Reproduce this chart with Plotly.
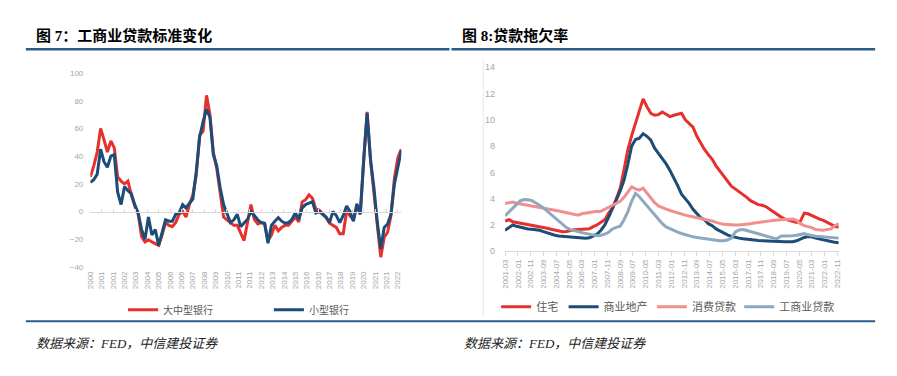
import plotly.graph_objects as go
import pandas as pd

W, H = 897, 376

# ---------------- Data: left chart (figure 7) ----------------
left_dates = pd.date_range('2000-03-01', periods=92, freq='3MS')
large_banks = [25, 33, 43, 60, 52, 43, 51, 46, 25, 22, 20, 22, 12, 4, -2, -18,
               -22, -20.5, -22, -23, -24.5, -17, -8, -10, -11, -8, -2, 0, -4, 5,
               12, 26, 55, 58, 84, 70, 43, 31, 12, -4, -6, -8, -10, -10, -16, -21,
               -8, 5, -5.6, -9, -8, -9, -21, -17, -10, -14, -11.5, -10, -10, -7,
               -4, -7.5, 7, 8.5, 12, 9.6, 1.6, 1, -2, -4.5, -8.5, -10, -11.5, -16,
               -16, 0, -3, -6, 4, -2, 37, 72, 37, 15.5, -10, -33, -18.6, -15, -3,
               24, 39, 45]
small_banks = [21, 23, 27, 45, 36, 32, 40, 41, 14, 5, 18, 15, 13, 5, -1, -13,
               -20, -4, -17, -13, -24.5, -15, -6, -7, -7, -2, -1, 5, 2.6, 6,
               9, 29, 54, 65, 74, 68, 41, 33, 17, 5, -2, -8, -6, -2, -11, -8,
               -5.6, 0, -3, -6, -8, -8.5, -23, -10, -7, -4.5, -7, -8.5, -8, -5.6,
               -1, -5.6, 2.6, 5, 6, 7, -1, 0, -2, -4, -8, 0, -3, -8,
               -3, 4, 0, -7, 5.6, -2, 37, 71, 37, 17, -8, -27, -11.5, -9, -2,
               20, 32, 44]
left_tickvals = ['2000-03-01', '2001-01-01', '2001-11-01', '2002-09-01', '2003-07-01',
                 '2004-05-01', '2005-03-01', '2006-01-01', '2006-11-01', '2007-09-01',
                 '2008-07-01', '2009-05-01', '2010-03-01', '2011-01-01', '2011-11-01',
                 '2012-09-01', '2013-07-01', '2014-05-01', '2015-03-01', '2016-01-01',
                 '2016-11-01', '2017-09-01', '2018-07-01', '2019-05-01', '2020-03-01',
                 '2021-01-01', '2021-11-01', '2022-09-01']
left_ticktext = ['2000', '2001', '2001', '2002', '2003', '2004', '2005', '2006', '2006',
                 '2007', '2008', '2009', '2010', '2011', '2011', '2012', '2013', '2014',
                 '2015', '2016', '2016', '2017', '2018', '2019', '2020', '2021', '2021',
                 '2022']
left_yticks = [-40, -20, 0, 20, 40, 60, 80, 100]

# ---------------- Data: right chart (figure 8) ----------------
right_dates = pd.date_range('2001-03-01', periods=88, freq='3MS')
residential = [2.3, 2.4, 2.25, 2.2, 2.15, 2.1, 2.05, 2.0, 1.95, 1.88, 1.8, 1.75, 1.68,
               1.62, 1.55, 1.48, 1.5, 1.58, 1.63, 1.65, 1.66, 1.66, 1.72, 1.88, 2.0,
               2.2, 2.4, 2.9, 3.3, 4.0, 4.8, 6.2, 7.7, 8.8, 9.7, 10.7, 11.6, 11.0,
               10.5, 10.35, 10.4, 10.6, 10.4, 10.25, 10.35, 10.45, 10.5, 10.0, 9.7,
               9.45, 8.75, 8.2, 7.75, 7.35, 7.0, 6.5, 6.1, 5.7, 5.35, 4.95, 4.75,
               4.55, 4.35, 4.1, 3.85, 3.7, 3.55, 3.5, 3.4, 3.2, 3.0, 2.75, 2.6, 2.45,
               2.35, 2.25, 2.2, 2.3, 2.9, 2.85, 2.7, 2.55, 2.45, 2.35, 2.2, 2.0, 1.9,
               1.82]
commercial_re = [1.6, 1.8, 2.0, 1.9, 1.82, 1.75, 1.7, 1.68, 1.66, 1.6, 1.5, 1.4, 1.3,
                 1.22, 1.16, 1.13, 1.1, 1.08, 1.05, 1.02, 1.0, 1.0, 1.02, 1.15, 1.3,
                 1.6, 2.0, 2.6, 3.2, 3.9, 4.6, 5.4, 6.6, 8.0, 8.5, 8.6, 8.95, 8.75,
                 8.45, 7.85, 7.45, 7.05, 6.65, 6.15, 5.6, 5.0, 4.35, 4.0, 3.65, 3.2,
                 2.85, 2.55, 2.4, 2.1, 1.95, 1.7, 1.55, 1.38, 1.25, 1.14, 1.05, 1.0,
                 0.95, 0.9, 0.88, 0.85, 0.82, 0.8, 0.78, 0.76, 0.73, 0.72, 0.72, 0.72,
                 0.72, 0.72, 0.8, 0.95, 1.05, 1.12, 1.1, 1.0, 0.95, 0.88, 0.82, 0.75,
                 0.68, 0.65]
consumer = [3.64, 3.7, 3.74, 3.65, 3.6, 3.55, 3.5, 3.45, 3.42, 3.38, 3.3, 3.25, 3.18,
            3.12, 3.06, 3.0, 2.95, 2.88, 2.8, 2.75, 2.85, 2.92, 2.95, 3.0, 3.02, 3.05,
            3.2, 3.35, 3.55, 3.7, 3.8, 4.1, 4.5, 4.9, 4.75, 4.65, 4.8, 4.4, 4.0, 3.7,
            3.45, 3.3, 3.2, 3.1, 3.0, 2.9, 2.82, 2.75, 2.68, 2.62, 2.55, 2.5, 2.45,
            2.35, 2.3, 2.2, 2.1, 2.05, 2.03, 2.0, 2.0, 2.0, 2.02, 2.06, 2.1, 2.15,
            2.2, 2.25, 2.3, 2.32, 2.35, 2.38, 2.4, 2.42, 2.44, 2.45, 2.35, 2.1, 1.95,
            1.9, 1.8, 1.65, 1.6, 1.6, 1.65, 1.7, 1.95, 2.1]
c_and_i = [2.7, 3.0, 3.3, 3.6, 3.85, 3.93, 3.92, 3.85, 3.7, 3.5, 3.3, 3.05, 2.8, 2.55,
           2.3, 2.0, 1.8, 1.65, 1.55, 1.5, 1.42, 1.35, 1.28, 1.2, 1.18, 1.22, 1.3,
           1.45, 1.7, 1.82, 1.9, 2.4, 3.0, 3.8, 4.4, 4.15, 3.8, 3.5, 3.1, 2.8, 2.4,
           2.1, 1.85, 1.7, 1.55, 1.45, 1.35, 1.25, 1.18, 1.1, 1.05, 1.0, 0.95, 0.9,
           0.85, 0.82, 0.8, 0.8, 0.85, 1.0, 1.45, 1.62, 1.65, 1.58, 1.5, 1.4, 1.32,
           1.26, 1.18, 1.1, 1.0, 0.98, 1.16, 1.16, 1.15, 1.18, 1.22, 1.3, 1.34, 1.25,
           1.18, 1.15, 1.12, 1.1, 1.07, 1.05, 1.02, 1.0]
right_ticktext = ['2001-03', '2002-01', '2002-11', '2003-09', '2004-07', '2005-05',
                  '2006-03', '2007-01', '2007-11', '2008-09', '2009-07', '2010-05',
                  '2011-03', '2012-01', '2012-11', '2013-09', '2014-07', '2015-05',
                  '2016-03', '2017-01', '2017-11', '2018-09', '2019-07', '2020-05',
                  '2021-03', '2022-01', '2022-11']
right_yticks = [0, 2, 4, 6, 8, 10, 12, 14]

# ---------------- Styling ----------------
RED = '#E5302C'
NAVY = '#1C4C78'
PINK = '#F0908E'
GREYBLUE = '#8EA8BD'
RULE = '#2B5B87'
TICKFONT = dict(family='Liberation Sans, Arial, sans-serif', size=8, color='#A6A6A6')
CJK = 'Noto Sans CJK SC'


def px(x):
    return x / W


def py(y):
    return (H - y) / H


# plot areas in pixels
LX0, LX1, LY_TOP, LY_BOT = 87, 400.4, 70, 269
RX0, RX1, RY_TOP, RY_BOT = 505, 841.3, 64, 253

fig = go.Figure()

fig.add_trace(go.Scatter(x=left_dates, y=large_banks, name='大中型银行', mode='lines',
                         line=dict(color=RED, width=3), xaxis='x', yaxis='y',
                         legend='legend'))
fig.add_trace(go.Scatter(x=left_dates, y=small_banks, name='小型银行', mode='lines',
                         line=dict(color=NAVY, width=3), xaxis='x', yaxis='y',
                         legend='legend2'))
# helper trace so the zero-line tick axis renders
fig.add_trace(go.Scatter(x=[left_dates[0]], y=[0], mode='markers', marker=dict(opacity=0),
                         showlegend=False, hoverinfo='skip', xaxis='x3', yaxis='y'))

for name, vals, color, leg in [('住宅', residential, RED, 'legend3'),
                               ('商业地产', commercial_re, NAVY, 'legend4'),
                               ('消费贷款', consumer, PINK, 'legend5'),
                               ('工商业贷款', c_and_i, GREYBLUE, 'legend6')]:
    fig.add_trace(go.Scatter(x=right_dates, y=vals, name=name, mode='lines',
                             line=dict(color=color, width=3), xaxis='x2', yaxis='y2',
                             legend=leg))

zero_pos = py(LY_BOT) + (0 - (-40)) / 140 * (py(LY_TOP) - py(LY_BOT))

layout = dict(
    width=W, height=H, autosize=False,
    margin=dict(l=0, r=0, t=0, b=0),
    paper_bgcolor='white', plot_bgcolor='white',
    showlegend=True,
    xaxis=dict(domain=[px(LX0), px(LX1)], anchor='y', type='date',
               range=['2000-03-01', '2022-12-01'],
               tickmode='array', tickvals=left_tickvals, ticktext=left_ticktext,
               tickangle=-90, tickfont=TICKFONT, showgrid=False, showline=False,
               zeroline=False, ticks='', ticklabelstandoff=2),
    xaxis3=dict(overlaying='x', anchor='free', position=zero_pos, type='date',
                range=['2000-03-01', '2022-12-01'],
                tickmode='array', tickvals=left_tickvals, showticklabels=False,
                ticks='inside', ticklen=3, tickcolor='#D9D9D9', showline=True,
                linecolor='#D9D9D9', linewidth=1, showgrid=False, zeroline=False),
    yaxis=dict(domain=[py(LY_BOT), py(LY_TOP)], anchor='x', range=[-40, 100],
               tickmode='array', tickvals=left_yticks, tickfont=TICKFONT,
               showgrid=False, zeroline=False, showline=False, ticks='',
               ticklabelstandoff=6),
    xaxis2=dict(domain=[px(RX0), px(RX1)], anchor='y2', type='date',
                range=['2001-03-01', '2022-12-01'],
                tickmode='array', tickvals=[t + '-01' for t in right_ticktext],
                ticktext=right_ticktext, tickangle=-90, tickfont=TICKFONT,
                showgrid=False, showline=True, linecolor='#D9D9D9', linewidth=1,
                ticks='outside', ticklen=4, tickcolor='#D9D9D9', zeroline=False),
    yaxis2=dict(domain=[py(RY_BOT), py(RY_TOP)], anchor='x2', range=[0, 14],
                tickmode='array', tickvals=right_yticks,
                tickfont=dict(TICKFONT, size=9), showgrid=False, zeroline=False,
                showline=False, ticks='', ticklabelstandoff=9),
)

leg_common = dict(orientation='h', xanchor='left', yanchor='middle',
                  bgcolor='rgba(0,0,0,0)', borderwidth=0, itemclick=False,
                  itemdoubleclick=False)
legend_pos = {'legend': (120, 313, 10), 'legend2': (267, 313, 10),
              'legend3': (496, 310, 11), 'legend4': (564, 310, 11),
              'legend5': (653, 310, 11), 'legend6': (741, 310, 11)}
for key, (lx, ly, fs) in legend_pos.items():
    layout[key] = dict(leg_common, x=px(lx), y=py(ly),
                       font=dict(family=CJK, size=fs, color='#595959'))

fig.update_layout(**layout)

TITLE_FONT = dict(family='Liberation Serif, ' + CJK, size=15, color='#000000')
SRC_FONT = dict(family='Liberation Serif, ' + CJK, size=13, color='#222222', style='italic')

fig.add_annotation(x=px(30), y=py(31), xref='paper', yref='paper', xanchor='left',
                   yanchor='middle', showarrow=False, text='<b>图 7：工商业贷款标准变化</b>',
                   font=TITLE_FONT)
fig.add_annotation(x=px(460), y=py(31), xref='paper', yref='paper', xanchor='left',
                   yanchor='middle', showarrow=False, text='<b>图 8:贷款拖欠率</b>',
                   font=TITLE_FONT)
for sx in (30, 462):
    fig.add_annotation(x=px(sx), y=py(348), xref='paper', yref='paper', xanchor='left',
                       yanchor='middle', showarrow=False,
                       text='数据来源：FED，中信建投证券', font=SRC_FONT)

# rules
for x0, x1 in [(22, 449), (451, 878)]:
    fig.add_shape(type='line', xref='paper', yref='paper', x0=px(x0), x1=px(x1),
                  y0=py(45.5), y1=py(45.5), line=dict(color=RULE, width=2.5))
fig.add_shape(type='line', xref='paper', yref='paper', x0=px(22), x1=px(878),
              y0=py(325), y1=py(325), line=dict(color=RULE, width=2))
# frame edge of right chart image
fig.add_shape(type='line', xref='paper', yref='paper', x0=px(483), x1=px(483),
              y0=py(55), y1=py(320), line=dict(color='#E8E8E8', width=1))

fig.write_html('out.html', config={'displayModeBar': False},
               post_script="document.body.style.margin='0';")
